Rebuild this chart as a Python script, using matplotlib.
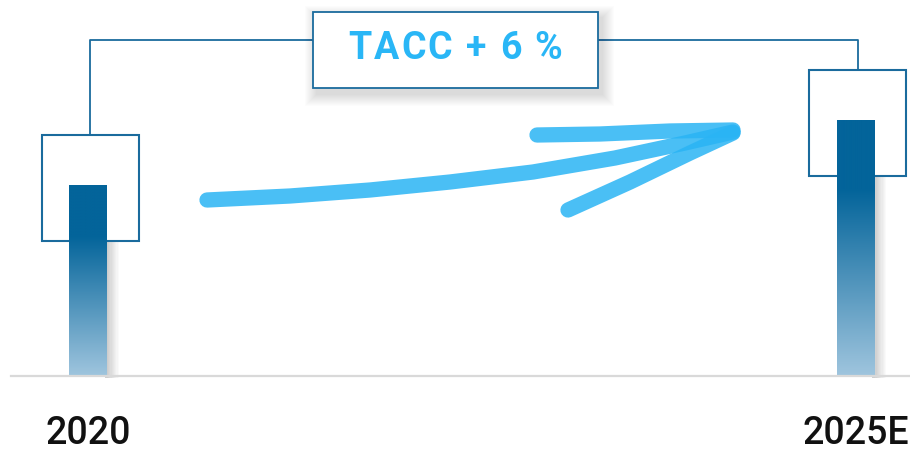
import matplotlib
matplotlib.use("Agg")
import matplotlib.pyplot as plt
import numpy as np
from matplotlib.transforms import Affine2D
from matplotlib.patches import Rectangle
from matplotlib.colors import LinearSegmentedColormap

# ---- data ----
categories = ["2020", "2025E"]
values = [100, 133.8]
cagr_label = "TACC + 6 %"

W, H = 910, 451
fig = plt.figure(figsize=(W / 100, H / 100), dpi=100)
fig.patch.set_facecolor("white")

# pixel transform (origin top-left)
PX = Affine2D().scale(1 / W, -1 / H).translate(0, 1) + fig.transFigure

base_px = 376
ax = fig.add_axes([0, (H - base_px) / H, 1, base_px / H])
ax.set_xlim(-88 / 767.5, 1 + (W - 855.5) / 767.5)
ax.set_ylim(0, max(values) * base_px / 256)
ax.axis("off")

xs = np.arange(len(categories))
bw = 0.0495
bars = ax.bar(xs, values, width=bw, color="none", edgecolor="none", zorder=4)

dark = "#03649a"
light = "#9fc5de"
cmap = LinearSegmentedColormap.from_list(
    "g", [(0, light), (0.73, dark), (1.0, dark)])
grad = np.linspace(0, 1, 256).reshape(-1, 1)

def to_px(x, y):
    dx, dy = ax.transData.transform((x, y))
    return dx, H - dy

for b in bars:
    x0, y0 = b.get_x(), b.get_y()
    w, h = b.get_width(), b.get_height()
    im = ax.imshow(grad, cmap=cmap, extent=[x0, x0 + w, y0, y0 + h],
                   origin="lower", aspect="auto", zorder=4)
    im.set_clip_path(b)
    # soft shadow to the right
    px_l, px_top = to_px(x0 + w, y0 + h)
    _, px_bot = to_px(x0, y0)
    for i in range(10):
        fig.patches.append(Rectangle((px_l - 2, px_top + 6), 3 + i * 1.2, px_bot - px_top - 4,
                                     transform=PX, facecolor="#000000", alpha=0.018,
                                     edgecolor="none", zorder=1))

# baseline
fig.add_artist(plt.Line2D([11, W], [base_px, base_px], transform=PX,
                          color="#d9d9d9", lw=1.6, zorder=5))

line_c = "#1a6b9d"
# boxes around the bar tops
box_w, box_h = 97, 106
tops = []
for b in bars:
    cx, ty = to_px(b.get_x() + b.get_width() / 2, b.get_height())
    bx = cx + 2.5
    by = ty + 3
    tops.append((bx, by - box_h / 2))
    fig.patches.append(Rectangle((bx - box_w / 2, by - box_h / 2), box_w, box_h,
                                 transform=PX, facecolor="white", edgecolor=line_c,
                                 lw=1.5, zorder=2))
ax.set_zorder(3)
ax.patch.set_visible(False)

# label box
lb_x0, lb_y0, lb_x1, lb_y1 = 313, 12, 598, 88
conn_y = 40
fig.add_artist(plt.Line2D([tops[0][0], tops[0][0], lb_x0], [tops[0][1], conn_y, conn_y],
                          transform=PX, color=line_c, lw=1.3, zorder=2))
fig.add_artist(plt.Line2D([lb_x1, tops[1][0], tops[1][0]], [conn_y, conn_y, tops[1][1]],
                          transform=PX, color=line_c, lw=1.3, zorder=2))
for i in range(12):
    g = 12 - i
    fig.patches.append(Rectangle((lb_x0 + 4 - g, lb_y0 + 6 - g), (lb_x1 - lb_x0) + 2 * g,
                                 (lb_y1 - lb_y0) + 2 * g, transform=PX,
                                 facecolor="#000000", alpha=0.010, edgecolor="none", zorder=2.5))
fig.patches.append(Rectangle((lb_x0, lb_y0), lb_x1 - lb_x0, lb_y1 - lb_y0, transform=PX,
                             facecolor="white", edgecolor=line_c, lw=1.3, zorder=2.6))

# tracked label text
txt_c = "#29b6f6"
fp = dict(family=["Roboto", "DejaVu Sans"], fontsize=27, fontweight="bold", color=txt_c)
renderer = fig.canvas.get_renderer()
tracking = 2.0
widths = []
for ch in cagr_label:
    t = fig.text(0, 0, ch if ch != " " else "n", **fp)
    bb = t.get_window_extent(renderer)
    widths.append(bb.width if ch != " " else bb.width * 0.45)
    t.remove()
total = sum(widths) + tracking * (len(cagr_label) - 1)
x = (lb_x0 + lb_x1) / 2 - total / 2
for ch, w in zip(cagr_label, widths):
    if ch != " ":
        fig.text(x, 48.5, ch, transform=PX, ha="left", va="center", zorder=3, **fp)
    x += w + tracking

# chalk arrow (decoration)
arrow_c = "#2ab4f4"
main = np.array([(207, 200), (290, 196), (370, 190), (450, 182), (533, 172),
                 (615, 158), (685, 143), (733, 132)])
upper = np.array([(537, 135), (600, 134), (670, 131), (733, 130)])
lower = np.array([(568, 210), (630, 182), (690, 153), (733, 133)])
for pts in (main, upper, lower):
    fig.add_artist(plt.Line2D(pts[:, 0], pts[:, 1], transform=PX, color=arrow_c,
                              lw=11, solid_capstyle="round", solid_joinstyle="round",
                              alpha=0.85, zorder=3))

# year labels
for b, lab in zip(bars, categories):
    cx, _ = to_px(b.get_x() + b.get_width() / 2, 0)
    fig.text(cx, 433, lab, transform=PX, ha="center", va="center",
             family=["Roboto", "DejaVu Sans"], fontsize=27, fontweight="medium",
             color="#111111")

fig.savefig("out.png", dpi=100, facecolor="white")
